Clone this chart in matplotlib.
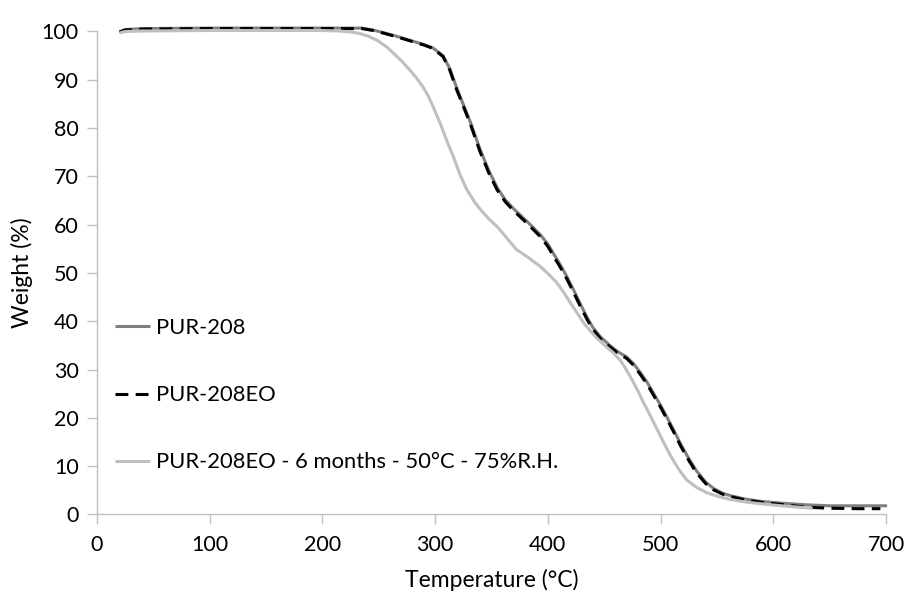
import numpy as np
import matplotlib
matplotlib.use("Agg")
import matplotlib.pyplot as plt

plt.rcParams['font.family'] = ['Lato', 'DejaVu Sans']

# TGA curves: temperature (°C) and weight (%)
temp_208 = [20, 25, 40, 100, 200, 235, 245, 255, 266, 280, 290, 298, 307, 313,
            319, 325, 331, 340, 348, 355, 362, 370, 381, 393, 400, 405, 411,
            417, 423, 429, 435, 440, 447, 455, 462, 470, 476, 482, 488, 494,
            500, 506, 512, 518, 525, 532, 540, 547, 555, 562, 575, 590, 610,
            630, 650, 675, 701]
weight_208 = [99.9, 100.4, 100.6, 100.7, 100.7, 100.7, 100.3, 99.7, 99.0, 98.0,
              97.3, 96.6, 95.0, 92.3, 88.4, 84.9, 81.4, 75.5, 71.0, 67.7, 65.2,
              63.2, 60.8, 58.0, 56.0, 54.0, 51.7, 49.2, 46.4, 43.5, 40.7, 38.7,
              36.7, 35.0, 33.7, 32.6, 31.2, 29.4, 27.4, 25.0, 22.6, 20.0, 17.3,
              14.5, 11.6, 9.0, 6.7, 5.4, 4.4, 3.9, 3.2, 2.7, 2.3, 2.0, 1.8, 1.8,
              1.8]

temp_208eo = [20, 25, 40, 100, 200, 235, 245, 255, 266, 280, 290, 298, 307, 313,
              319, 325, 331, 340, 348, 355, 362, 370, 381, 393, 400, 405, 411,
              417, 423, 429, 435, 440, 447, 455, 462, 470, 476, 482, 488, 494,
              500, 506, 512, 518, 525, 532, 540, 547, 555, 562, 575, 590, 610,
              630, 650, 675, 695]
weight_208eo = [99.9, 100.3, 100.5, 100.6, 100.6, 100.6, 100.2, 99.6, 98.9, 97.9,
                97.2, 96.5, 94.8, 92.0, 88.0, 84.5, 81.0, 75.0, 70.5, 67.2, 64.8,
                62.8, 60.4, 57.6, 55.5, 53.5, 51.2, 48.7, 45.9, 43.0, 40.3, 38.3,
                36.3, 34.7, 33.4, 32.3, 30.9, 29.0, 27.0, 24.6, 22.2, 19.6, 16.9,
                14.1, 11.2, 8.6, 6.4, 5.1, 4.2, 3.7, 3.0, 2.5, 2.0, 1.5, 1.3, 1.2,
                1.2]

temp_aged = [20, 25, 40, 100, 200, 215, 225, 233, 241, 249, 257, 264, 271, 278,
             284, 289, 294, 299, 305, 311, 316, 322, 328, 335, 341, 348, 355,
             363, 372, 382, 393, 400, 408, 414, 420, 426, 432, 438, 444, 451,
             458, 465, 473, 479, 485, 491, 497, 503, 509, 516, 523, 532, 541,
             550, 562, 578, 594, 612, 635]
weight_aged = [99.7, 100.0, 100.1, 100.2, 100.2, 100.1, 99.9, 99.6, 99.0, 98.1,
               96.8, 95.3, 93.7, 91.9, 90.2, 88.6, 86.6, 84.0, 80.7, 77.0, 74.2,
               70.4, 67.3, 64.7, 62.9, 61.1, 59.6, 57.4, 54.9, 53.3, 51.4, 49.9,
               48.0, 46.0, 43.8, 41.7, 39.6, 37.9, 36.4, 34.9, 33.5, 31.7, 28.6,
               26.0, 23.1, 20.4, 17.6, 14.8, 12.1, 9.4, 7.2, 5.6, 4.5, 3.8, 3.1,
               2.5, 2.1, 1.7, 1.3]

labels = ['PUR-208', 'PUR-208EO', 'PUR-208EO - 6 months - 50°C - 75%R.H.']

fig = plt.figure(figsize=(9.08, 5.95), dpi=100)
ax = fig.add_axes([0.1068, 0.1353, 0.869, 0.8118])

ax.plot(temp_208, weight_208, color='#7f7f7f', lw=2.2, label=labels[0],
        clip_on=False, solid_capstyle='butt')
ax.plot(temp_208eo, weight_208eo, color='black', lw=2.2, ls=(0, (4.2, 2.4)),
        label=labels[1], clip_on=False)
ax.plot(temp_aged, weight_aged, color='#bfbfbf', lw=2.2, label=labels[2],
        clip_on=False, solid_capstyle='butt')

ax.set_xlim(0, 700)
ax.set_ylim(0, 100)
ax.set_xticks(np.arange(0, 701, 100))
ax.set_yticks(np.arange(0, 101, 10))

for side in ['top', 'right']:
    ax.spines[side].set_visible(False)
for side in ['left', 'bottom']:
    ax.spines[side].set_color('#bfbfbf')
    ax.spines[side].set_linewidth(1.0)

ax.tick_params(axis='both', direction='out', length=7, width=1.0,
               color='#bfbfbf', labelsize=15.5, labelcolor='black')
ax.tick_params(axis='x', pad=8)
ax.tick_params(axis='y', pad=6)

ax.set_xlabel('Temperature (°C)', fontsize=16.5, labelpad=10)
ax.set_ylabel('Weight (%)', fontsize=16.5, labelpad=6)

ax.legend(loc='center left', bbox_to_anchor=(0.023, 0.247), frameon=False,
          fontsize=15.8, handlelength=1.6, handletextpad=0.25, labelspacing=2.15,
          borderaxespad=0, borderpad=0)

fig.savefig('out.png', dpi=100)
